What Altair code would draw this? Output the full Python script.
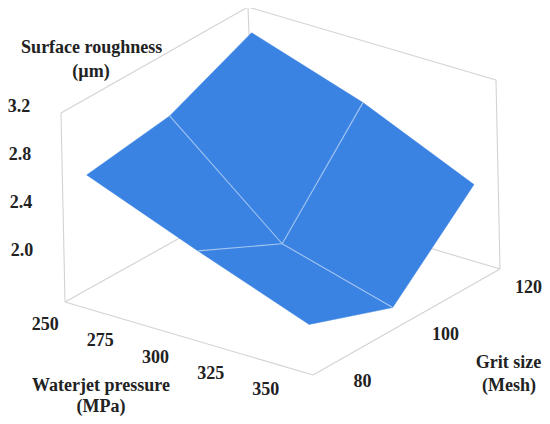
import altair as alt
import pandas as pd

# --- data -----------------------------------------------------------------
pressure = [250, 300, 350]
grit = [80, 100, 120]
rough_g80 = [2.67, 2.31, 1.97]
rough_g100 = [2.77, 1.98, 1.72]
rough_g120 = [3.07, 2.76, 2.35]
pressure_ticks = [250, 275, 300, 325, 350]
grit_ticks = [80, 100, 120]
rough_ticks = [2.0, 2.4, 2.8, 3.2]

# --- axis ranges of the 3-D box -------------------------------------------
P0, P1 = 243.8, 356.2
G0, G1 = 77.44, 122.56
Z0, Z1 = 1.634, 3.2

# --- view: where the box corners fall on the page --------------------------
VIEW = {
    (0, 0, 0): (65, 302), (1, 0, 0): (313, 375),
    (0, 1, 0): (255, 196), (1, 1, 0): (500, 269),
    (0, 0, 1): (61, 113), (1, 0, 1): (309, 186),
    (0, 1, 1): (248, 7), (1, 1, 1): (496, 80),
}


def unit(v, a, b):
    return (v - a) / (b - a)


def project(u, v, w):
    px = py = 0.0
    for (i, j, k), (cx, cy) in VIEW.items():
        f = (u if i else 1 - u) * (v if j else 1 - v) * (w if k else 1 - w)
        px += f * cx
        py += f * cy
    return px, py


def surf(ip, ig):
    z = [rough_g80, rough_g100, rough_g120][ig][ip]
    return project(unit(pressure[ip], P0, P1), unit(grit[ig], G0, G1), unit(z, Z0, Z1))


# surface outline
perimeter = [(0, 0), (0, 1), (0, 2), (1, 2), (2, 2), (2, 1), (2, 0), (1, 0)]
poly = pd.DataFrame(
    [{"x": surf(*p)[0], "y": surf(*p)[1], "i": n} for n, p in enumerate(perimeter + perimeter[:1])]
)

# inner mesh lines
mesh_rows = []
for e, end in enumerate([(0, 1), (1, 2), (2, 1), (1, 0)]):
    for n, p in enumerate([(1, 1), end]):
        x, y = surf(*p)
        mesh_rows.append({"x": x, "y": y, "i": n, "e": e})
mesh = pd.DataFrame(mesh_rows)

# box edges
edges = [
    ((0, 0, 0), (1, 0, 0)), ((1, 0, 0), (1, 1, 0)), ((1, 1, 0), (0, 1, 0)), ((0, 1, 0), (0, 0, 0)),
    ((0, 0, 0), (0, 0, 1)), ((1, 1, 0), (1, 1, 1)), ((0, 1, 0), (0, 1, 1)),
    ((0, 0, 1), (0, 1, 1)), ((0, 1, 1), (1, 1, 1)),
]
box_rows = []
for e, (a, b) in enumerate(edges):
    for n, c in enumerate((a, b)):
        x, y = project(*c)
        box_rows.append({"x": x, "y": y, "i": n, "e": e})
box = pd.DataFrame(box_rows)

# tick labels
labels = []
for t in pressure_ticks:
    x, y = project(unit(t, P0, P1), 0, 0)
    labels.append({"x": x - 33.5, "y": y + 19, "t": str(t)})
for t in grit_ticks:
    x, y = project(1, unit(t, G0, G1), 0)
    labels.append({"x": x + 39, "y": y + 13, "t": str(t)})
for t in rough_ticks:
    x, y = project(0, 0, unit(t, Z0, Z1))
    labels.append({"x": x - 42, "y": y - 6.5, "t": f"{t:.1f}"})
# axis titles
labels += [
    {"x": 91.7, "y": 47.7, "t": "Surface roughness"},
    {"x": 91.0, "y": 71.7, "t": "(µm)"},
    {"x": 101, "y": 385.5, "t": "Waterjet pressure"},
    {"x": 101, "y": 407, "t": "(MPa)"},
    {"x": 508.5, "y": 362.7, "t": "Grit size"},
    {"x": 509, "y": 386, "t": "(Mesh)"},
]
labels = pd.DataFrame(labels)

X = alt.X("x:Q", axis=None, scale=alt.Scale(domain=[8, 542], nice=False, zero=False))
Y = alt.Y("y:Q", axis=None, scale=alt.Scale(domain=[416, 8], nice=False, zero=False))

box_layer = alt.Chart(box).mark_line(color="#d2d2d2", strokeWidth=1.1).encode(
    x=X, y=Y, detail="e:N", order="i:Q"
)
surface_layer = alt.Chart(poly).mark_line(fill="#3a83e2", stroke="#3a83e2", strokeWidth=0.5).encode(
    x=X, y=Y, order="i:Q"
)
mesh_layer = alt.Chart(mesh).mark_line(color="#a3c5f2", strokeWidth=1.1).encode(
    x=X, y=Y, detail="e:N", order="i:Q"
)
text_layer = alt.Chart(labels).mark_text(
    font="Liberation Serif", fontWeight="bold", fontSize=18, color="#222222",
    align="center", baseline="middle",
).encode(x=X, y=Y, text="t:N")

chart = (
    alt.layer(box_layer, surface_layer, mesh_layer, text_layer)
    .properties(width=534, height=408, padding=0, autosize=alt.AutoSizeParams(type="none"))
    .configure_view(stroke=None)
)
chart.save("out.html", embed_options={"renderer": "svg", "actions": False})
